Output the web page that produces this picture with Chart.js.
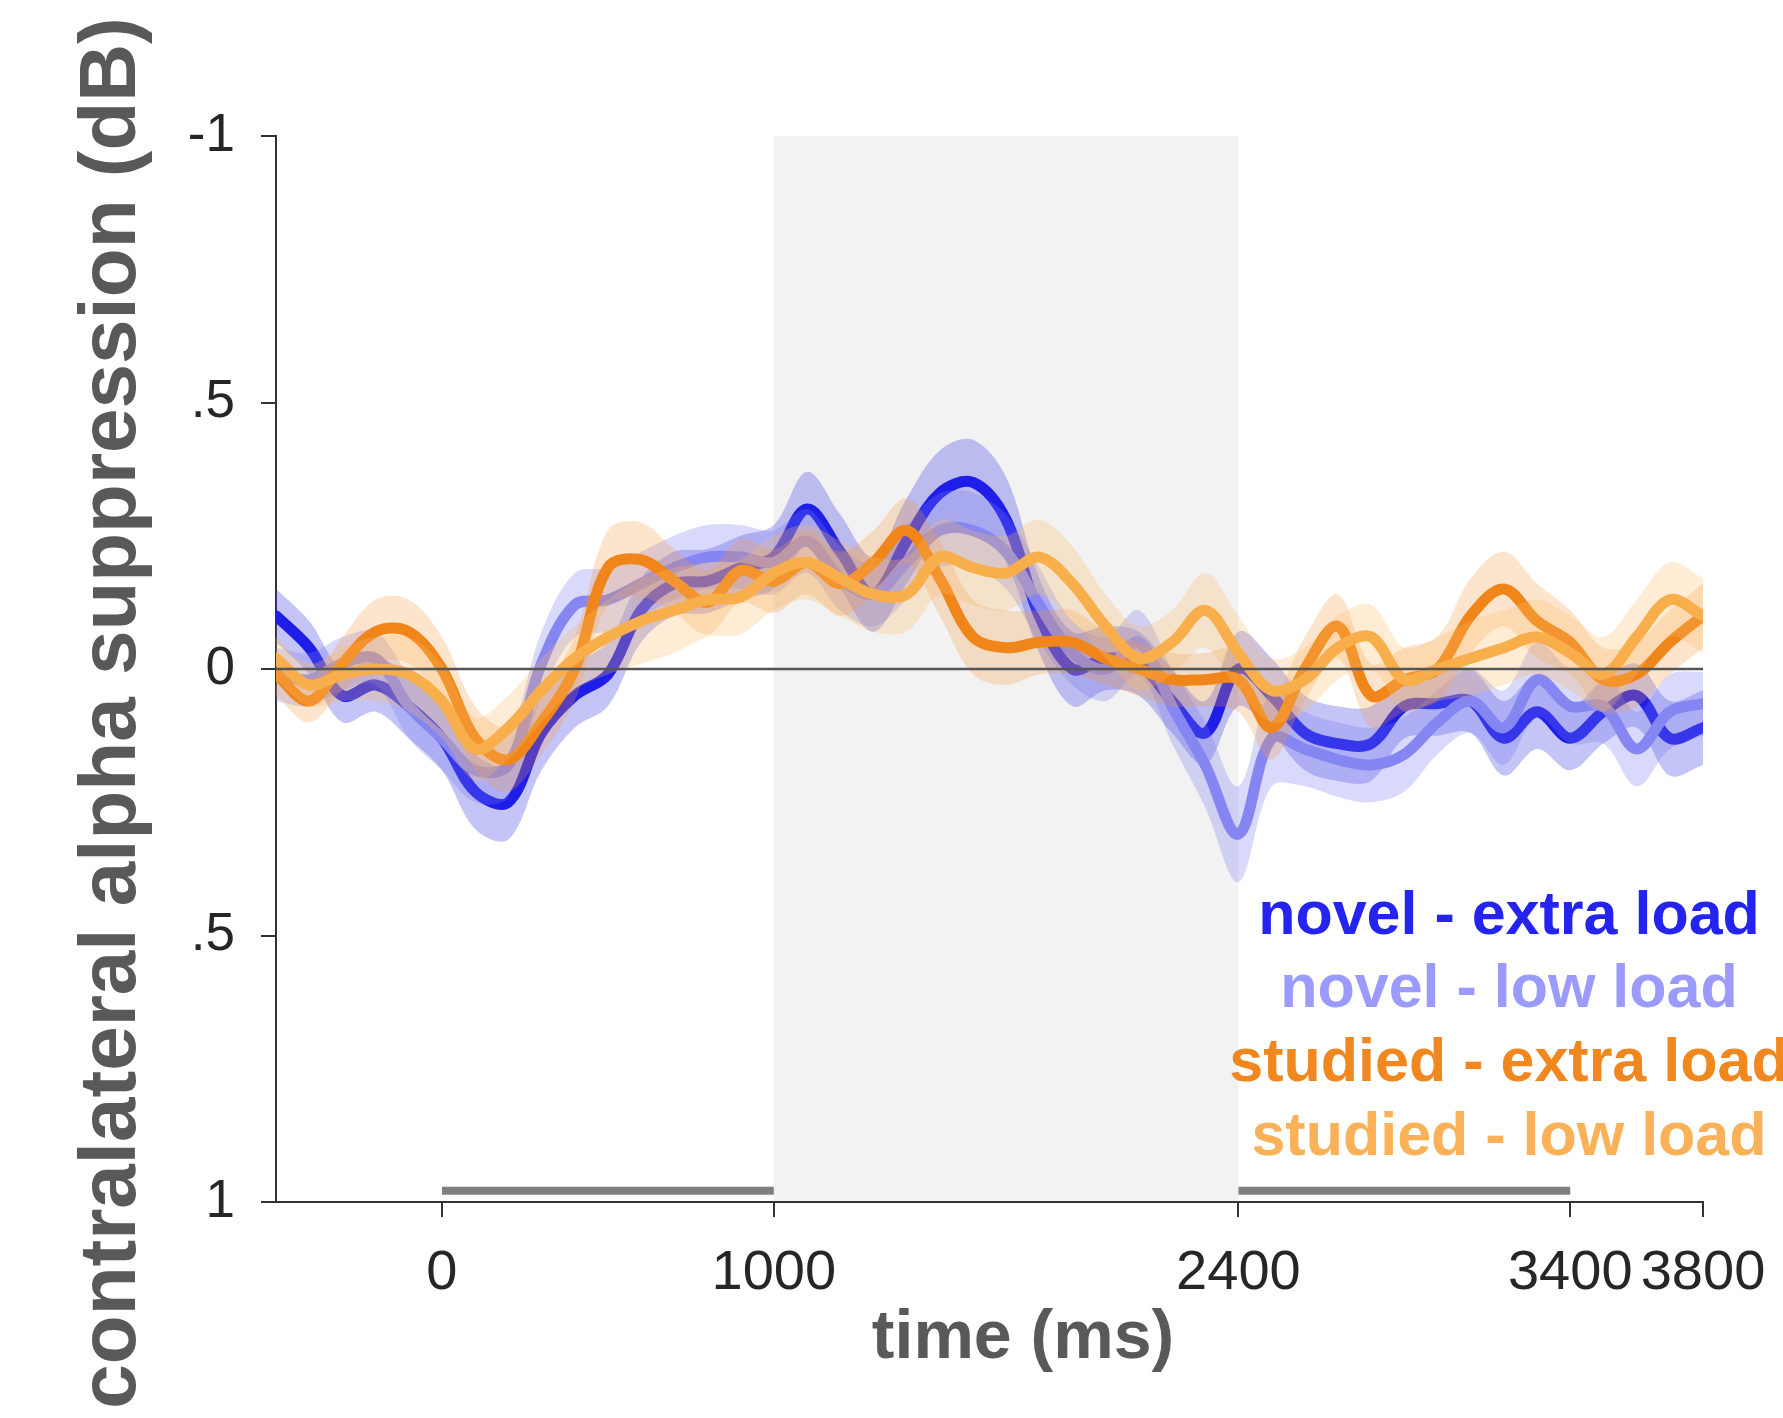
<!DOCTYPE html>
<html>
<head>
<meta charset="utf-8">
<script src="https://cdn.jsdelivr.net/npm/chart.js@4.4.1/dist/chart.umd.min.js"></script>
<style>
body{margin:0;background:#fff;}
#wrap{width:1783px;height:1418px;position:relative;}
</style>
</head>
<body>
<div id="wrap"><canvas id="chart"></canvas></div>
<script>

// time axis (ms), one sample every 100 ms
const times=[-500,-400,-300,-200,-100,0,100,200,300,400,
500,600,700,800,900,1000,1100,1200,1300,1400,
1500,1600,1700,1800,1900,2000,2100,2200,2300,2400,
2500,2600,2700,2800,2900,3000,3100,3200,3300,3400,
3500,3600,3700,3800];

const novelExtra=[-0.10,-0.04,0.05,0.03,0.07,0.13,0.23,0.25,0.12,0.05,
0.01,-0.11,-0.16,-0.165,-0.19,-0.21,-0.30,-0.22,-0.14,-0.24,
-0.33,-0.35,-0.28,-0.10,0.00,-0.02,-0.01,0.06,0.12,0.00,
0.05,0.12,0.14,0.14,0.07,0.065,0.06,0.13,0.08,0.13,
0.08,0.05,0.13,0.11];

const novelLow=[0.01,0.02,-0.01,-0.02,0.07,0.13,0.19,0.18,-0.01,-0.12,
-0.13,-0.16,-0.19,-0.21,-0.21,-0.20,-0.24,-0.17,-0.14,-0.20,
-0.26,-0.26,-0.22,-0.12,-0.03,0.00,-0.05,0.07,0.18,0.31,
0.13,0.15,0.17,0.18,0.16,0.10,0.06,0.11,0.02,0.07,
0.07,0.15,0.08,0.065];

const studiedExtra=[0.01,0.06,-0.01,-0.07,-0.07,0.00,0.13,0.17,0.10,0.00,
-0.19,-0.205,-0.165,-0.125,-0.185,-0.165,-0.20,-0.16,-0.20,-0.26,
-0.17,-0.06,-0.04,-0.05,-0.05,-0.02,0.00,0.02,0.02,0.02,
0.11,0.00,-0.08,0.05,0.02,0.00,-0.10,-0.15,-0.09,-0.05,
0.02,0.01,-0.05,-0.10];

const studiedLow=[-0.02,0.03,0.01,0.00,0.01,0.06,0.15,0.11,0.04,-0.02,
-0.06,-0.09,-0.11,-0.13,-0.135,-0.18,-0.20,-0.17,-0.14,-0.14,
-0.21,-0.19,-0.18,-0.21,-0.16,-0.08,-0.02,-0.05,-0.11,-0.03,
0.04,0.02,-0.04,-0.06,0.02,0.00,-0.02,-0.04,-0.06,-0.03,
0.01,-0.06,-0.13,-0.10];

// standard error, same samples
const seNovelExtra=[0.05,0.05,0.05,0.05,0.06,0.06,0.07,0.07,0.07,0.06,
0.06,0.06,0.06,0.06,0.06,0.06,0.07,0.07,0.07,0.08,
0.08,0.08,0.08,0.07,0.07,0.06,0.06,0.06,0.06,0.07,
0.07,0.07,0.07,0.07,0.06,0.06,0.06,0.07,0.07,0.06,
0.06,0.06,0.07,0.07];

const seNovelLow=[0.05,0.05,0.05,0.05,0.06,0.06,0.06,0.06,0.06,0.06,
0.06,0.06,0.06,0.06,0.06,0.06,0.06,0.06,0.06,0.07,
0.07,0.07,0.07,0.07,0.06,0.06,0.06,0.07,0.08,0.09,
0.09,0.07,0.07,0.07,0.07,0.06,0.06,0.07,0.07,0.07,
0.07,0.07,0.07,0.06];

const seStudiedExtra=[0.04,0.04,0.05,0.06,0.06,0.06,0.06,0.06,0.06,0.06,
0.07,0.07,0.06,0.06,0.06,0.06,0.06,0.06,0.06,0.06,
0.07,0.07,0.07,0.06,0.06,0.05,0.05,0.05,0.05,0.06,
0.06,0.06,0.06,0.06,0.06,0.06,0.07,0.07,0.07,0.06,
0.06,0.06,0.06,0.06];

const seStudiedLow=[0.04,0.04,0.05,0.06,0.07,0.07,0.06,0.06,0.06,0.06,
0.07,0.08,0.08,0.07,0.07,0.07,0.07,0.07,0.07,0.07,
0.07,0.07,0.07,0.07,0.07,0.06,0.06,0.06,0.07,0.07,
0.06,0.06,0.06,0.06,0.06,0.06,0.07,0.07,0.07,0.07,
0.07,0.07,0.07,0.07];

const xTicks=[0,1000,2400,3400,3800];
const yTicks=[-1,-0.5,0,0.5,1];
const yTickLabels=["-1",".5","0",".5","1"];
const shadeRange=[1000,2400];
const sigBars=[[0,1000],[2400,3400]];
const sigLevel=0.979;

const seriesNames=["novel - extra load","novel - low load","studied - extra load","studied - low load"];
const seriesMeans=[novelExtra,novelLow,studiedExtra,studiedLow];
const seriesSE=[seNovelExtra,seNovelLow,seStudiedExtra,seStudiedLow];

const lineColors=["#1e1ee8","#8686f2","#f08519","#f9ae4c"];
const bandColors=["rgba(70,70,230,0.32)","rgba(120,120,240,0.28)","rgba(245,150,60,0.26)","rgba(250,185,100,0.28)"];
const legendColors=["#2424ee","#9a9aff","#f0871f","#fbb158"];

const FONT='"Liberation Sans", Arial, Helvetica, sans-serif';

let datasets=[];

seriesMeans.forEach((m,i)=>{
let se=seriesSE[i];
let upper=times.map((t,k)=>({x:t,y:m[k]+se[k]}));
let lower=times.map((t,k)=>({x:t,y:m[k]-se[k]}));
let mean=times.map((t,k)=>({x:t,y:m[k]}));
let upIndex=datasets.length;
let ord=90-i*20;
datasets.push({data:upper,borderWidth:0,pointRadius:0,fill:false,order:ord,tension:0.35});
datasets.push({data:lower,borderWidth:0,pointRadius:0,fill:upIndex,backgroundColor:bandColors[i],order:ord,tension:0.35});
datasets.push({data:mean,borderColor:lineColors[i],borderWidth:11,pointRadius:0,fill:false,order:ord-5,tension:0.35,borderCapStyle:"round",borderJoinStyle:"round"});
});

sigBars.forEach(b=>{
datasets.push({data:[{x:b[0],y:sigLevel},{x:b[1],y:sigLevel}],borderColor:"#808080",borderWidth:8,pointRadius:0,fill:false,order:5});
});

datasets.push({data:[{x:times[0],y:0},{x:times[times.length-1],y:0}],borderColor:"#555555",borderWidth:2.5,pointRadius:0,fill:false,order:0});


const overlay={
id:"overlay",
beforeDraw(chart){
let {ctx,chartArea,scales}=chart;
let x1=scales.x.getPixelForValue(shadeRange[0]);
let x2=scales.x.getPixelForValue(shadeRange[1]);
ctx.save();
ctx.fillStyle="#f2f2f2";
ctx.fillRect(x1,chartArea.top,x2-x1,chartArea.bottom-chartArea.top);
ctx.restore();
},
afterDraw(chart){
let ctx=chart.ctx;
ctx.save();

ctx.fillStyle="#595959";
ctx.font="bold 68px "+FONT;
ctx.textAlign="center";
ctx.textBaseline="alphabetic";
ctx.fillText("time (ms)",1023,1358);

ctx.save();
ctx.translate(135,713);
ctx.rotate(-Math.PI/2);
ctx.font="bold 80px "+FONT;
ctx.fillText("contralateral alpha suppression (dB)",0,0);
ctx.restore();

ctx.font="bold 61px "+FONT;
let baselines=[934,1007,1081,1155];
seriesNames.forEach((n,i)=>{
ctx.fillStyle=legendColors[i];
ctx.fillText(n,1509,baselines[i]);
});

ctx.restore();
}
};

new Chart(document.getElementById("chart"),{
type:"line",
data:{datasets:datasets},
options:{
responsive:true,
maintainAspectRatio:false,
animation:false,
layout:{padding:{top:136,right:80,left:0,bottom:0}},
plugins:{legend:{display:false},tooltip:{enabled:false}},
scales:{
x:{
type:"linear",
min:-500,
max:3800,
afterBuildTicks:(s)=>{s.ticks=xTicks.map(v=>({value:v}));},
afterFit:(s)=>{s.height=216;},
grid:{drawOnChartArea:false,drawTicks:true,tickLength:15,color:"#333333",lineWidth:2},
border:{display:true,color:"#333333",width:2},
ticks:{color:"#262626",font:{family:FONT,size:56,lineHeight:1.5},padding:15,maxRotation:0,autoSkip:false,
callback:(v)=>String(v)}
},
y:{
type:"linear",
min:-1,
max:1,
reverse:true,
afterBuildTicks:(s)=>{s.ticks=yTicks.map(v=>({value:v}));},
afterFit:(s)=>{s.width=276;},
grid:{drawOnChartArea:false,drawTicks:true,tickLength:15,color:"#333333",lineWidth:2},
border:{display:true,color:"#333333",width:2},
ticks:{color:"#262626",font:{family:FONT,size:53},padding:26,autoSkip:false,
callback:(v)=>{let k=yTicks.indexOf(v);return k>=0?yTickLabels[k]:"";}}
}
}
},
plugins:[overlay]
});

</script>
</body>
</html>
